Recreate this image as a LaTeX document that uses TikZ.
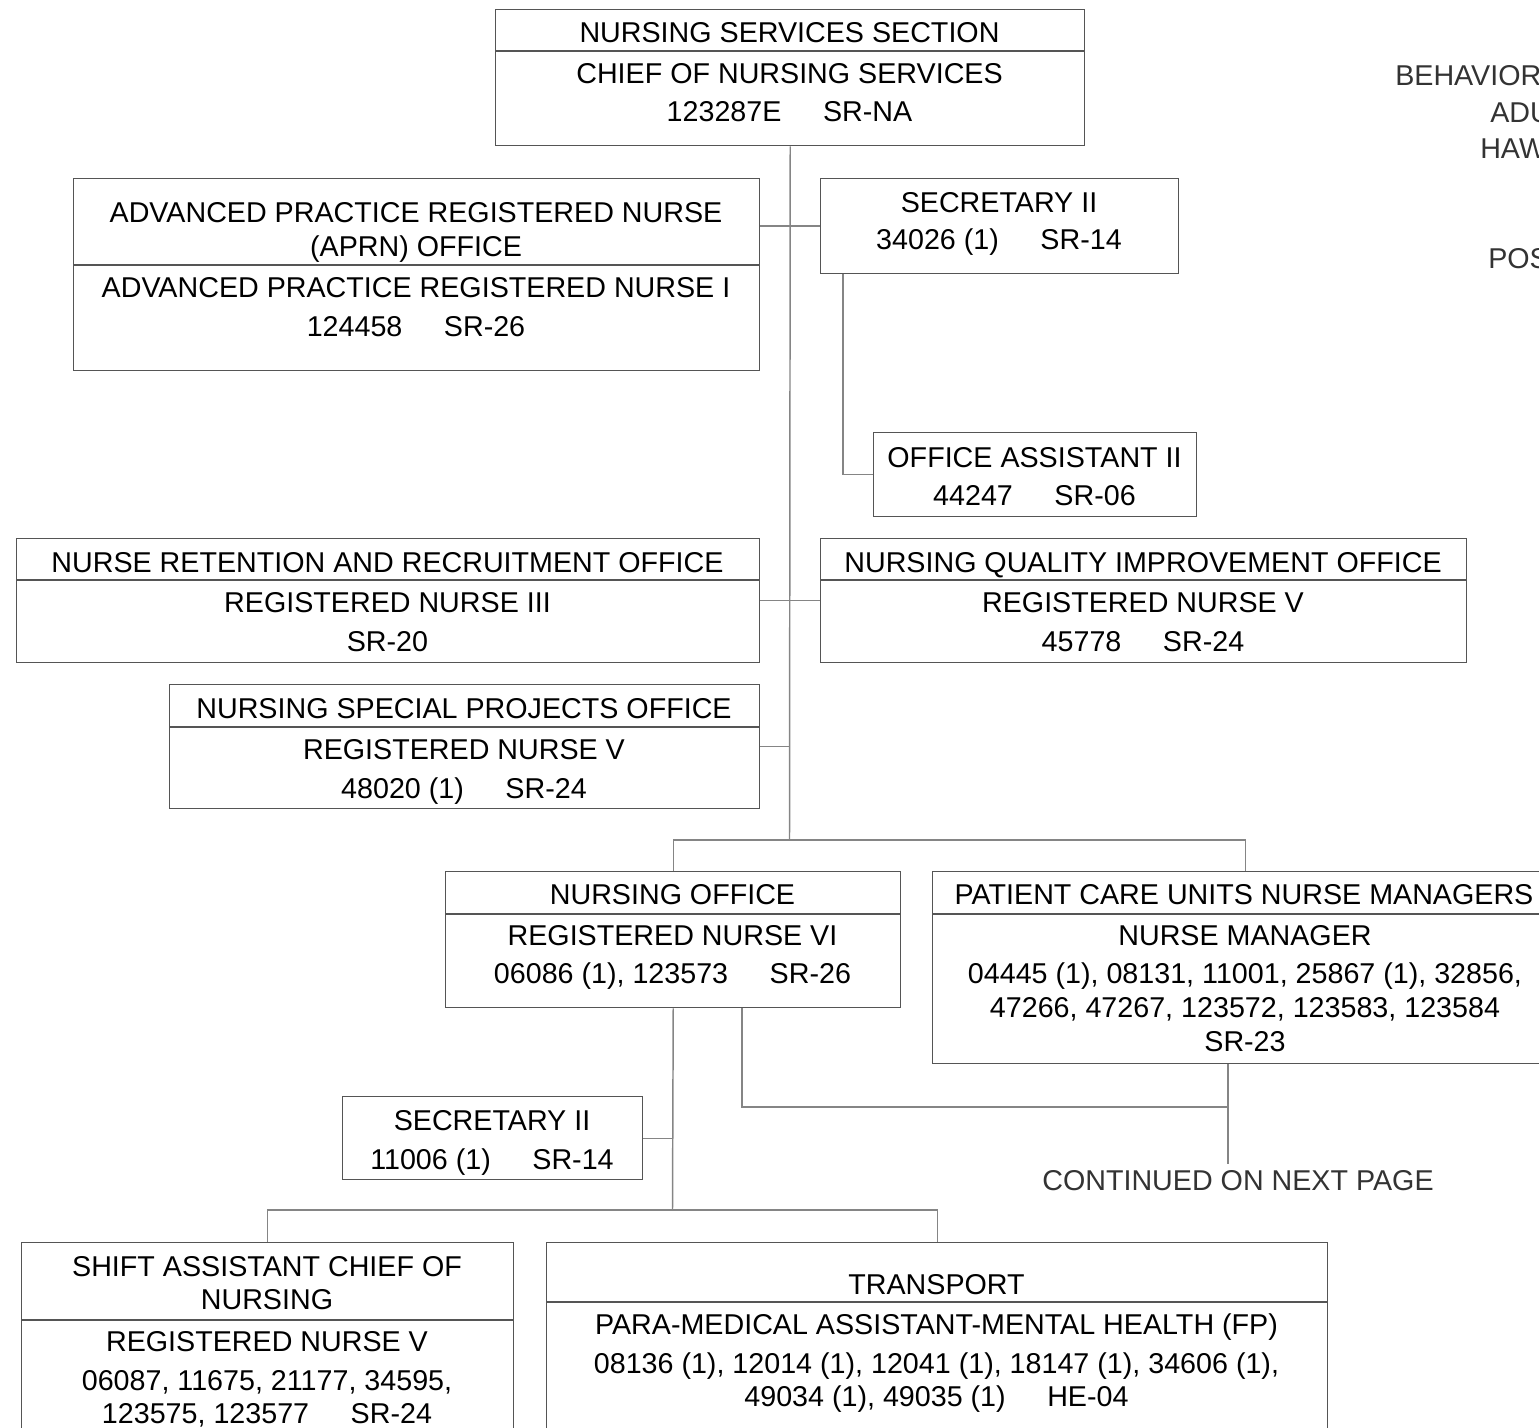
\documentclass[tikz,border=0pt]{standalone}
\usepackage{fontspec}
\setmainfont{Liberation Sans}
\usetikzlibrary{positioning, calc}
\definecolor{boxgray}{HTML}{555555}
\definecolor{linkgray}{HTML}{858585}
\definecolor{titlegray}{HTML}{333333}
\newcommand{\colgap}{\hspace{1.45em}}

\begin{document}
\begin{tikzpicture}[
  x=0.75pt, y=-0.75pt,
  unit/.style 2 args={draw=boxgray, line width=1.1pt, anchor=north west, inner sep=0pt,
    minimum width=#1*0.75pt, minimum height=#2*0.75pt},
  txt/.style={anchor=base, inner sep=0pt, font=\fontsize{21.5}{26}\selectfont},
  title/.style={txt, anchor=base west, text=titlegray},
  div/.style={draw=boxgray, line width=1.1pt},
  link/.style={draw=linkgray, line width=1.1pt},
]
  \useasboundingbox (0,0) rectangle (1539,1428);
  \clip (0,0) rectangle (1539,1428);

  % heading, cut off at the right edge
  \node[title] (hd1) at (1395,85) {BEHAVIOR};
  \node[title] (hd2) at (1490,122) {ADUL};
  \node[title] (hd3) at (1480,158) {HAWA};
  \node[title] (hd4) at (1488,268) {POSI};

  % boxes
  \node[unit={589}{136}] (nss) at (495,9) {};
  \node[unit={686}{192}] (aprn) at (73,178) {};
  \node[unit={358}{95}] (sec1) at (820,178) {};
  \node[unit={323}{84}] (oa) at (873,432) {};
  \node[unit={743}{124}] (nrr) at (16,538) {};
  \node[unit={646}{124}] (nqi) at (820,538) {};
  \node[unit={590}{124}] (nsp) at (169,684) {};
  \node[unit={455}{136}] (no) at (445,871) {};
  \node[unit={626}{192}] (pcu) at (932,871) {};
  \node[unit={300}{83}] (sec2) at (342,1096) {};
  \node[unit={492}{210}] (sac) at (21,1242) {};
  \node[unit={781}{210}] (tr) at (546,1242) {};

  % dividers
  \draw[div] (nss.west |- 0,51) -- (nss.east |- 0,51);
  \draw[div] (aprn.west |- 0,265) -- (aprn.east |- 0,265);
  \draw[div] (nrr.west |- 0,580) -- (nrr.east |- 0,580);
  \draw[div] (nqi.west |- 0,580) -- (nqi.east |- 0,580);
  \draw[div] (nsp.west |- 0,727) -- (nsp.east |- 0,727);
  \draw[div] (no.west |- 0,914) -- (no.east |- 0,914);
  \draw[div] (pcu.west |- 0,914) -- (pcu.east |- 0,914);
  \draw[div] (sac.west |- 0,1320) -- (sac.east |- 0,1320);
  \draw[div] (tr.west |- 0,1302) -- (tr.east |- 0,1302);

  % texts
  \node[txt] (nss1) at (789.5,42) {NURSING SERVICES SECTION};
  \node[txt] (nss2) at (789.5,83) {CHIEF OF NURSING SERVICES};
  \node[txt] (nss3) at (789.5,121) {123287E\colgap SR-NA};

  \node[txt] (aprn1) at (416,222) {ADVANCED PRACTICE REGISTERED NURSE};
  \node[txt] (aprn2) at (416,256) {(APRN) OFFICE};
  \node[txt] (aprn3) at (416,297) {ADVANCED PRACTICE REGISTERED NURSE I};
  \node[txt] (aprn4) at (416,336) {124458\colgap SR-26};

  \node[txt] (sec1a) at (999,212) {SECRETARY II};
  \node[txt] (sec1b) at (999,249) {34026 (1)\colgap SR-14};

  \node[txt] (oa1) at (1034.5,467) {OFFICE ASSISTANT II};
  \node[txt] (oa2) at (1034.5,505) {44247\colgap SR-06};

  \node[txt] (nrr1) at (387.5,572) {NURSE RETENTION AND RECRUITMENT OFFICE};
  \node[txt] (nrr2) at (387.5,612) {REGISTERED NURSE III};
  \node[txt] (nrr3) at (387.5,651) {SR-20};

  \node[txt] (nqi1) at (1143,572) {NURSING QUALITY IMPROVEMENT OFFICE};
  \node[txt] (nqi2) at (1143,612) {REGISTERED NURSE V};
  \node[txt] (nqi3) at (1143,651) {45778\colgap SR-24};

  \node[txt] (nsp1) at (464,718) {NURSING SPECIAL PROJECTS OFFICE};
  \node[txt] (nsp2) at (464,759) {REGISTERED NURSE V};
  \node[txt] (nsp3) at (464,798) {48020 (1)\colgap SR-24};

  \node[txt] (no1) at (672.5,904) {NURSING OFFICE};
  \node[txt] (no2) at (672.5,945) {REGISTERED NURSE VI};
  \node[txt] (no3) at (672.5,983) {06086 (1), 123573\colgap SR-26};

  \node[txt] (pcu1) at (1244,904) {PATIENT CARE UNITS NURSE MANAGERS};
  \node[txt] (pcu2) at (1245,945) {NURSE MANAGER};
  \node[txt] (pcu3) at (1245,983) {04445 (1), 08131, 11001, 25867 (1), 32856,};
  \node[txt] (pcu4) at (1245,1017) {47266, 47267, 123572, 123583, 123584};
  \node[txt] (pcu5) at (1245,1051) {SR-23};

  \node[txt] (sec2a) at (492,1130) {SECRETARY II};
  \node[txt] (sec2b) at (492,1169) {11006 (1)\colgap SR-14};

  \node[txt, text=titlegray] (cont) at (1238,1190) {CONTINUED ON NEXT PAGE};

  \node[txt] (sac1) at (267,1276) {SHIFT ASSISTANT CHIEF OF};
  \node[txt] (sac2) at (267,1309) {NURSING};
  \node[txt] (sac3) at (267,1351) {REGISTERED NURSE V};
  \node[txt] (sac4) at (267,1390) {06087, 11675, 21177, 34595,};
  \node[txt] (sac5) at (267,1423) {123575, 123577\colgap SR-24};

  \node[txt] (tr1) at (936.5,1294) {TRANSPORT};
  \node[txt] (tr2) at (936.5,1334) {PARA-MEDICAL ASSISTANT-MENTAL HEALTH (FP)};
  \node[txt] (tr3) at (936.5,1373) {08136 (1), 12014 (1), 12041 (1), 18147 (1), 34606 (1),};
  \node[txt] (tr4) at (936.5,1406) {49034 (1), 49035 (1)\colgap HE-04};

  % connectors
  \coordinate (split1) at (789.5,840);
  \coordinate (split2) at (672.5,1210);
  \coordinate (join) at (1228,1107);

  \draw[link] (nss.south) -- (split1);
  \draw[link] (aprn.east |- 0,226) -- (sec1.west |- 0,226);
  \draw[link] (sec1.south -| 843,0) |- (oa.west);
  \draw[link] (nrr.east) -- (nqi.west);
  \draw[link] (nsp.east) -- (nsp.east -| split1);
  \draw[link] (split1) -| (no.north);
  \draw[link] (split1) -| (pcu.north);
  \draw[link] (no.south) -- (split2);
  \draw[link] (sec2.east) -- (sec2.east -| split2);
  \draw[link] (split2) -| (sac.north);
  \draw[link] (split2) -| (tr.north);
  \draw[link] (no.south -| 742,0) |- (join);
  \draw[link] (pcu.south -| join) -- ($(cont.north -| join)+(0,-6)$);
\end{tikzpicture}
\end{document}
